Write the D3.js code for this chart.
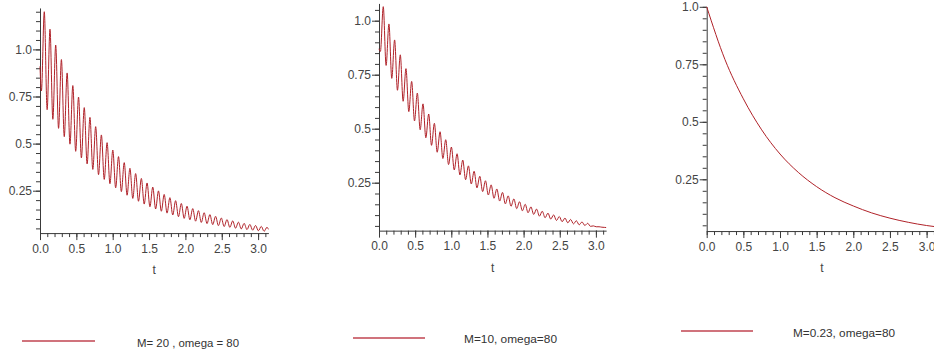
<!DOCTYPE html>
<html>
<head>
<meta charset="utf-8">
<script src="https://cdn.jsdelivr.net/npm/d3@7/dist/d3.min.js"></script>
<style>
  html, body { margin: 0; padding: 0; background: #fff; }
  svg { display: block; }
</style>
</head>
<body>
<svg id="chart" width="934" height="356"></svg>
<script>
// ---------- DATA ----------
// sample times at the extremes of the oscillation (plus start and end)
const tOsc = [0, 0.0196, 0.0589, 0.0982, 0.1374, 0.1767, 0.2160, 0.2553, 0.2945, 0.3338, 0.3731,
  0.4123, 0.4516, 0.4909, 0.5301, 0.5694, 0.6087, 0.6480, 0.6872, 0.7265, 0.7658,
  0.8050, 0.8443, 0.8836, 0.9228, 0.9621, 1.0014, 1.0407, 1.0799, 1.1192, 1.1585,
  1.1977, 1.2370, 1.2763, 1.3155, 1.3548, 1.3941, 1.4334, 1.4726, 1.5119, 1.5512,
  1.5904, 1.6297, 1.6690, 1.7082, 1.7475, 1.7868, 1.8261, 1.8653, 1.9046, 1.9439,
  1.9831, 2.0224, 2.0617, 2.1009, 2.1402, 2.1795, 2.2188, 2.2580, 2.2973, 2.3366,
  2.3758, 2.4151, 2.4544, 2.4936, 2.5329, 2.5722, 2.6115, 2.6507, 2.6900, 2.7293,
  2.7685, 2.8078, 2.8471, 2.8863, 2.9256, 2.9649, 3.0042, 3.0434, 3.0827, 3.1220, 3.1416];

const valuesM20 = [0.91, 0.78, 1.20, 0.680, 1.107, 0.629, 1.023, 0.581, 0.946, 0.537, 0.875,
  0.497, 0.808, 0.459, 0.747, 0.424, 0.691, 0.392, 0.639, 0.363, 0.590,
  0.335, 0.546, 0.310, 0.505, 0.287, 0.466, 0.265, 0.431, 0.245, 0.399,
  0.226, 0.369, 0.209, 0.341, 0.194, 0.315, 0.179, 0.291, 0.165, 0.269,
  0.153, 0.249, 0.141, 0.230, 0.131, 0.213, 0.121, 0.197, 0.112, 0.182,
  0.103, 0.168, 0.0954, 0.155, 0.0882, 0.144, 0.0816, 0.133, 0.0754, 0.123,
  0.0698, 0.114, 0.0644, 0.105, 0.0596, 0.0970, 0.0551, 0.0897, 0.0509, 0.0829,
  0.0471, 0.0767, 0.0435, 0.0709, 0.0403, 0.0655, 0.0372, 0.0606, 0.0344, 0.0560, 0.045];

const valuesM10 = [0.87, 0.858, 1.065, 0.793, 0.985, 0.733, 0.911, 0.678, 0.842, 0.627, 0.778,
  0.579, 0.719, 0.536, 0.665, 0.495, 0.615, 0.458, 0.568, 0.423, 0.525,
  0.391, 0.486, 0.362, 0.449, 0.334, 0.415, 0.309, 0.384, 0.286, 0.355,
  0.264, 0.328, 0.244, 0.303, 0.226, 0.280, 0.209, 0.259, 0.193, 0.240,
  0.178, 0.221, 0.165, 0.205, 0.152, 0.189, 0.141, 0.175, 0.130, 0.162,
  0.120, 0.150, 0.111, 0.138, 0.103, 0.128, 0.0952, 0.118, 0.0879, 0.109,
  0.0814, 0.101, 0.0752, 0.0933, 0.0695, 0.0863, 0.0642, 0.0798, 0.0594, 0.0738,
  0.0550, 0.0683, 0.0520, 0.0620, 0.0480, 0.0500, 0.0460, 0.0460, 0.0440, 0.0430, 0.0425];

const tSmooth = [0, 0.25, 0.5, 0.75, 1.0, 1.25, 1.5, 1.75, 2.0, 2.25, 2.5, 2.75, 3.0, 3.1416];
const valuesM023 = [1.0, 0.77, 0.60, 0.465, 0.36, 0.28, 0.218, 0.170, 0.134, 0.104, 0.081, 0.063, 0.049, 0.043];

const xTickValues = [0, 0.5, 1.0, 1.5, 2.0, 2.5, 3.0];
const xTickLabels = ["0.0", "0.5", "1.0", "1.5", "2.0", "2.5", "3.0"];
const yTickValues = [0.25, 0.5, 0.75, 1.0];
const yTickLabels = ["0.25", "0.5", "0.75", "1.0"];
const xAxisTitle = "t";
const legendLabels = ["M= 20 , omega = 80", "M=10, omega=80", "M=0.23, omega=80"];

// ---------- LAYOUT ----------
const lineColor = "#b02229";
const legendColor = "#c04550";
const axisColor = "#3a3a3a";
const labelColor = "#444";
const fontFamily = "'Liberation Sans', Arial, Helvetica, sans-serif";

const panels = [
  { t: tOsc, v: valuesM20, x0: 40, xk: 72.7, yZero: 237.8, yk: 188.4, yMin: 0.025, yMax: 1.22,
    legend: { x1: 22, x2: 95, y: 341, tx: 137, ty: 346.5, tl: 102 } },
  { t: tOsc, v: valuesM10, x0: 379, xk: 72.3, yZero: 236.7, yk: 216, yMin: 0.028, yMax: 1.08,
    legend: { x1: 353, x2: 425, y: 338, tx: 464, ty: 343, tl: 93 } },
  { t: tSmooth, v: valuesM023, x0: 706.7, xk: 73.3, yZero: 236.8, yk: 230, yMin: 0.025, yMax: 1.0,
    legend: { x1: 681, x2: 753, y: 331, tx: 793, ty: 336.5, tl: 102 } }
];

const svg = d3.select("#chart");
const tMax = Math.PI;

panels.forEach((p, i) => {
  const x = d3.scaleLinear().domain([0, tMax]).range([p.x0, p.x0 + p.xk * tMax]);
  const y = d3.scaleLinear().domain([p.yMin, p.yMax])
    .range([p.yZero - p.yk * p.yMin, p.yZero - p.yk * p.yMax]);
  const g = svg.append("g");
  const yAxisY = y(p.yMin);

  // minor ticks
  const xMinor = d3.range(0, 3.15, 0.1).filter(v => v <= tMax);
  const yMinor = d3.range(0.05, p.yMax + 0.001, 0.05).filter(v => v >= p.yMin);

  g.append("g")
    .attr("transform", `translate(0,${yAxisY})`)
    .call(d3.axisBottom(x).tickValues(xMinor).tickSize(4).tickSizeOuter(0).tickFormat(""))
    .call(s => s.select(".domain").remove());
  g.append("g")
    .attr("transform", `translate(${p.x0},0)`)
    .call(d3.axisLeft(y).tickValues(yMinor).tickSize(4).tickSizeOuter(0).tickFormat(""))
    .call(s => s.select(".domain").remove());

  // major axes
  g.append("g")
    .attr("transform", `translate(0,${yAxisY})`)
    .call(d3.axisBottom(x).tickValues(xTickValues).tickSize(7).tickSizeOuter(0).tickPadding(4)
      .tickFormat((d, k) => xTickLabels[k]));
  g.append("g")
    .attr("transform", `translate(${p.x0},0)`)
    .call(d3.axisLeft(y).tickValues(yTickValues).tickSize(7).tickSizeOuter(0).tickPadding(1)
      .tickFormat((d, k) => yTickLabels[k]));

  g.selectAll(".tick line, .domain").attr("stroke", axisColor).attr("stroke-width", 1);
  g.selectAll("text").attr("font-family", fontFamily).attr("font-size", 12).attr("fill", labelColor);

  // axis title
  g.append("text")
    .attr("x", (x.range()[0] + x.range()[1]) / 2)
    .attr("y", yAxisY + 41)
    .attr("text-anchor", "middle")
    .attr("font-family", fontFamily).attr("font-size", 12).attr("fill", labelColor)
    .text(xAxisTitle);

  // curve
  const data = p.t.map((tv, k) => [tv, p.v[k]]);
  g.append("path")
    .datum(data)
    .attr("fill", "none")
    .attr("stroke", lineColor)
    .attr("stroke-width", 1)
    .attr("d", d3.line().x(d => x(d[0])).y(d => y(d[1])).curve(d3.curveMonotoneX));

  // legend
  const L = p.legend;
  svg.append("line")
    .attr("x1", L.x1).attr("x2", L.x2).attr("y1", L.y).attr("y2", L.y)
    .attr("stroke", legendColor).attr("stroke-width", 1.5);
  svg.append("text")
    .attr("x", L.tx).attr("y", L.ty)
    .attr("font-family", fontFamily).attr("font-size", 11).attr("fill", "#333")
    .attr("textLength", L.tl).attr("lengthAdjust", "spacingAndGlyphs")
    .text(legendLabels[i]);
});
</script>
</body>
</html>
